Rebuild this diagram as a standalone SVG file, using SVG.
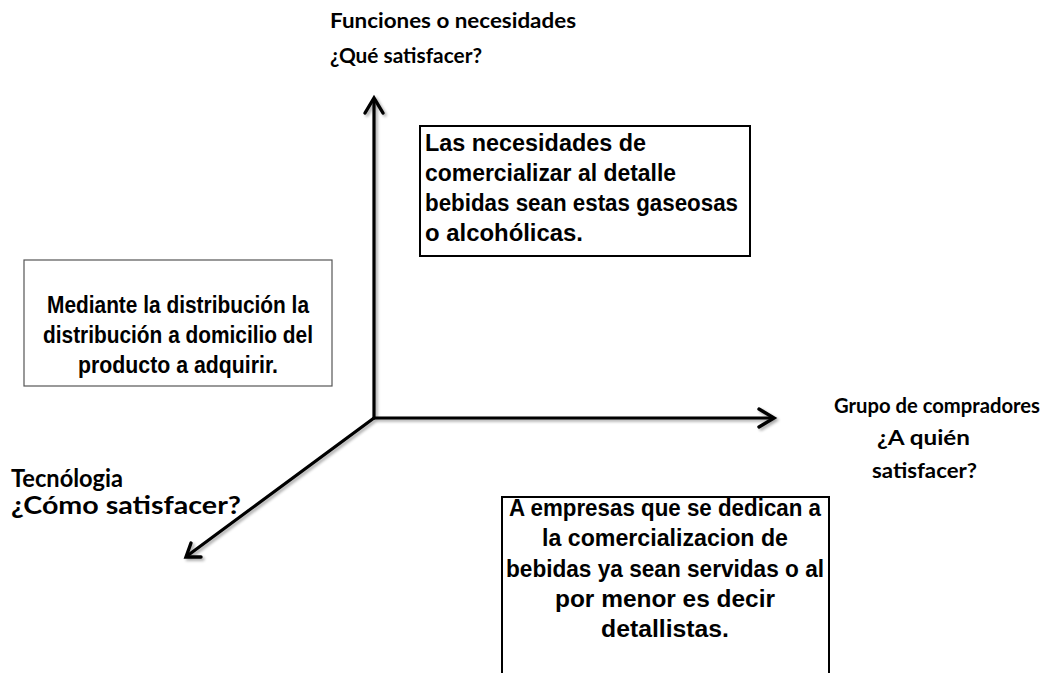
<svg xmlns="http://www.w3.org/2000/svg" width="1046" height="673" viewBox="0 0 1046 673">
<style>
.lbl{font-family:"Lato","Open Sans","Liberation Sans",sans-serif;font-weight:bold;font-size:21px;fill:#000}
.lbl2{font-family:"Lato","Open Sans","Liberation Sans",sans-serif;font-weight:bold;font-size:24px;fill:#000}
.box{fill:#fff;stroke:#000;stroke-width:2}
.boxg{fill:#fff;stroke:#555;stroke-width:1.2}
.bt{font-family:"Liberation Sans",Arial,sans-serif;font-weight:bold;font-size:23px;fill:#000}
.ax{fill:none;stroke:#000;stroke-width:3.2;stroke-linecap:round}
.hd{fill:none;stroke:#000;stroke-width:3.4;stroke-linecap:round;stroke-linejoin:miter}
</style>
<defs>
<filter id="sh" x="-10%" y="-10%" width="120%" height="120%">
<feGaussianBlur in="SourceAlpha" stdDeviation="1.5"/>
<feOffset dx="1.5" dy="2" result="b"/>
<feComponentTransfer><feFuncA type="linear" slope="0.35"/></feComponentTransfer>
<feMerge><feMergeNode/><feMergeNode in="SourceGraphic"/></feMerge>
</filter>
</defs>
<rect width="1046" height="673" fill="#fff"/>

<g id="connectors" filter="url(#sh)">
<path class="ax" d="M374,418 V99"/>
<path class="hd" d="M365,113 L374,98 L383,113"/>
<path class="ax" d="M374,418 H773"/>
<path class="hd" d="M759,409 L774,418 L759,427"/>
<path class="ax" d="M374,418 L187,556"/>
<path class="hd" d="M191,543 L186,557 L201,557"/>
</g>

<g id="label-funciones">
<text class="lbl" x="330" y="28" textLength="246" lengthAdjust="spacingAndGlyphs">Funciones o necesidades</text>
<text class="lbl" x="330" y="63" textLength="152" lengthAdjust="spacingAndGlyphs">¿Qué satisfacer?</text>
</g>

<g id="label-grupo">
<text class="lbl" x="834" y="413" textLength="206" lengthAdjust="spacingAndGlyphs">Grupo de compradores</text>
<text class="lbl" x="877" y="445" textLength="93" lengthAdjust="spacingAndGlyphs">¿A quién</text>
<text class="lbl" x="872" y="478" textLength="105" lengthAdjust="spacingAndGlyphs">satisfacer?</text>
</g>

<g id="label-tecnologia">
<text class="lbl2" x="11" y="487" textLength="112" lengthAdjust="spacingAndGlyphs">Tecnólogia</text>
<text class="lbl2" x="11" y="514" textLength="230" lengthAdjust="spacingAndGlyphs">¿Cómo satisfacer?</text>
</g>

<g id="box-necesidades">
<rect class="box" x="420" y="126" width="330" height="130"/>
<text class="bt" x="425" y="151" textLength="221" lengthAdjust="spacingAndGlyphs">Las necesidades de</text>
<text class="bt" x="425" y="181" textLength="251" lengthAdjust="spacingAndGlyphs">comercializar al detalle</text>
<text class="bt" x="425" y="211" textLength="313" lengthAdjust="spacingAndGlyphs">bebidas sean estas gaseosas</text>
<text class="bt" x="425" y="241" textLength="158" lengthAdjust="spacingAndGlyphs">o alcohólicas.</text>
</g>

<g id="box-tecnologia">
<rect class="boxg" x="24" y="260" width="308" height="126"/>
<text class="bt" x="178" y="313" text-anchor="middle" textLength="262" lengthAdjust="spacingAndGlyphs">Mediante la distribución la</text>
<text class="bt" x="178" y="343" text-anchor="middle" textLength="270" lengthAdjust="spacingAndGlyphs">distribución a domicilio del</text>
<text class="bt" x="178" y="373" text-anchor="middle" textLength="200" lengthAdjust="spacingAndGlyphs">producto a adquirir.</text>
</g>

<g id="box-compradores">
<path class="box" d="M502,675 V497 H829 V675"/>
<text class="bt" x="665" y="516" text-anchor="middle" textLength="312" lengthAdjust="spacingAndGlyphs">A empresas que se dedican a</text>
<text class="bt" x="665" y="546" text-anchor="middle" textLength="246" lengthAdjust="spacingAndGlyphs">la comercializacion de</text>
<text class="bt" x="665" y="577" text-anchor="middle" textLength="318" lengthAdjust="spacingAndGlyphs">bebidas ya sean servidas o al</text>
<text class="bt" x="665" y="607" text-anchor="middle" textLength="220" lengthAdjust="spacingAndGlyphs">por menor es decir</text>
<text class="bt" x="665" y="637" text-anchor="middle" textLength="128" lengthAdjust="spacingAndGlyphs">detallistas.</text>
</g>
</svg>
